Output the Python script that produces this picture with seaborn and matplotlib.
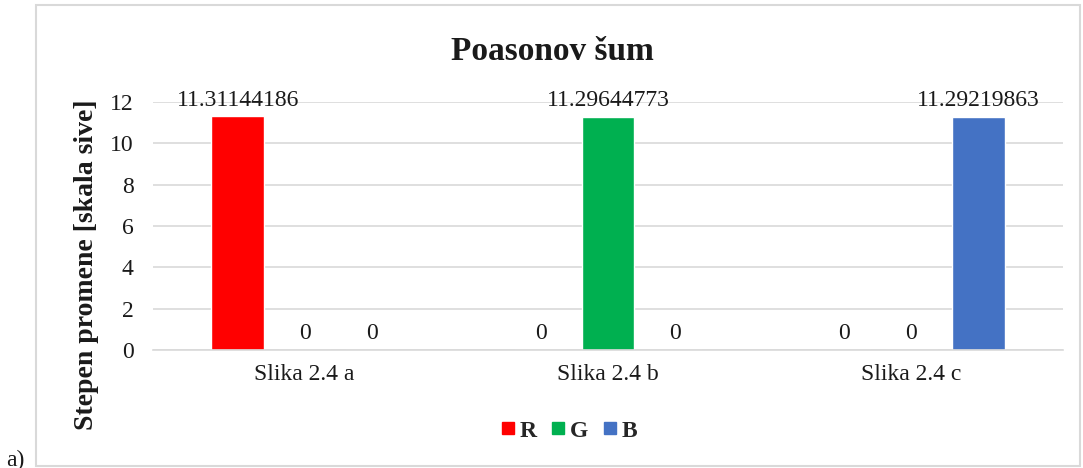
import matplotlib
matplotlib.use("Agg")
import matplotlib.pyplot as plt
import seaborn as sns
import pandas as pd
from matplotlib.patches import Rectangle
from matplotlib.lines import Line2D

categories = ["Slika 2.4 a", "Slika 2.4 b", "Slika 2.4 c"]
series = ["R", "G", "B"]
r_values = [11.31144186, 0, 0]
g_values = [0, 11.29644773, 0]
b_values = [0, 0, 11.29219863]
colors = ["#FF0000", "#00B050", "#4472C4"]
yticks = [0, 2, 4, 6, 8, 10, 12]

rows = []
for s, vals in zip(series, [r_values, g_values, b_values]):
    for c, v in zip(categories, vals):
        rows.append({"cat": c, "series": s, "value": v})
df = pd.DataFrame(rows)

sns.set_theme(style="white")
plt.rcParams["font.family"] = ["Liberation Serif", "DejaVu Serif"]

fig = plt.figure(figsize=(10.83, 4.68), dpi=100)
ax = fig.add_axes([153 / 1083, 1 - 350 / 468, 910 / 1083, 248 / 468])

sns.barplot(data=df, x="cat", y="value", hue="series", order=categories,
            hue_order=series, palette=colors, width=0.663, gap=0.21,
            saturation=1, ax=ax, legend=False, errorbar=None)

for cont in ax.containers:
    ax.bar_label(cont, labels=[f"{b.get_height():.10g}" for b in cont],
                 padding=4, fontsize=17, color="#1a1a1a")

ax.set_ylim(0, 12)
ax.set_xlim(-0.5, 2.5)
ax.set_yticks(yticks)
ax.set_yticklabels([str(t) for t in yticks], fontsize=17)
ax.tick_params(axis="both", length=0, labelsize=17, colors="#1a1a1a")
ax.tick_params(axis="y", pad=14)
ax.tick_params(axis="x", pad=10)
ax.yaxis.grid(True, color="#D9D9D9", linewidth=1.2)
ax.set_axisbelow(True)
for sp in ["top", "right", "left"]:
    ax.spines[sp].set_visible(False)
ax.spines["bottom"].set_color("#D9D9D9")
ax.spines["bottom"].set_linewidth(1.2)
ax.set_xlabel("")
ax.set_ylabel("")

fig.text(87 / 1083, 1 - 265 / 468, "Stepen promene [skala sive]", rotation=90,
         ha="center", va="center", fontsize=20, fontweight="bold", color="#1a1a1a")

fig.text(552 / 1083, 1 - 51 / 468, "Poasonov šum", ha="center", va="center",
         fontsize=24, fontweight="bold", color="#1a1a1a")

handles = [Line2D([0], [0], marker="s", linestyle="none", markersize=9,
                  markerfacecolor=c, markeredgecolor=c) for c in colors]
leg = fig.legend(handles, series, loc="center", bbox_to_anchor=(569 / 1083, 1 - 431 / 468),
                 ncol=3, frameon=False, handlelength=0.6, handletextpad=0.2,
                 columnspacing=0.6, prop={"size": 17, "weight": "bold"})

fig.patches.append(Rectangle((36 / 1083, 1 - 466 / 468), (1080 - 36) / 1083, (466 - 5) / 468,
                             transform=fig.transFigure, fill=False,
                             edgecolor="#D9D9D9", linewidth=1.5))
fig.text(6 / 1083, 1 - 460 / 468, "a)", ha="left", va="center", fontsize=17, color="#1a1a1a")

fig.savefig("out.png", dpi=100)
